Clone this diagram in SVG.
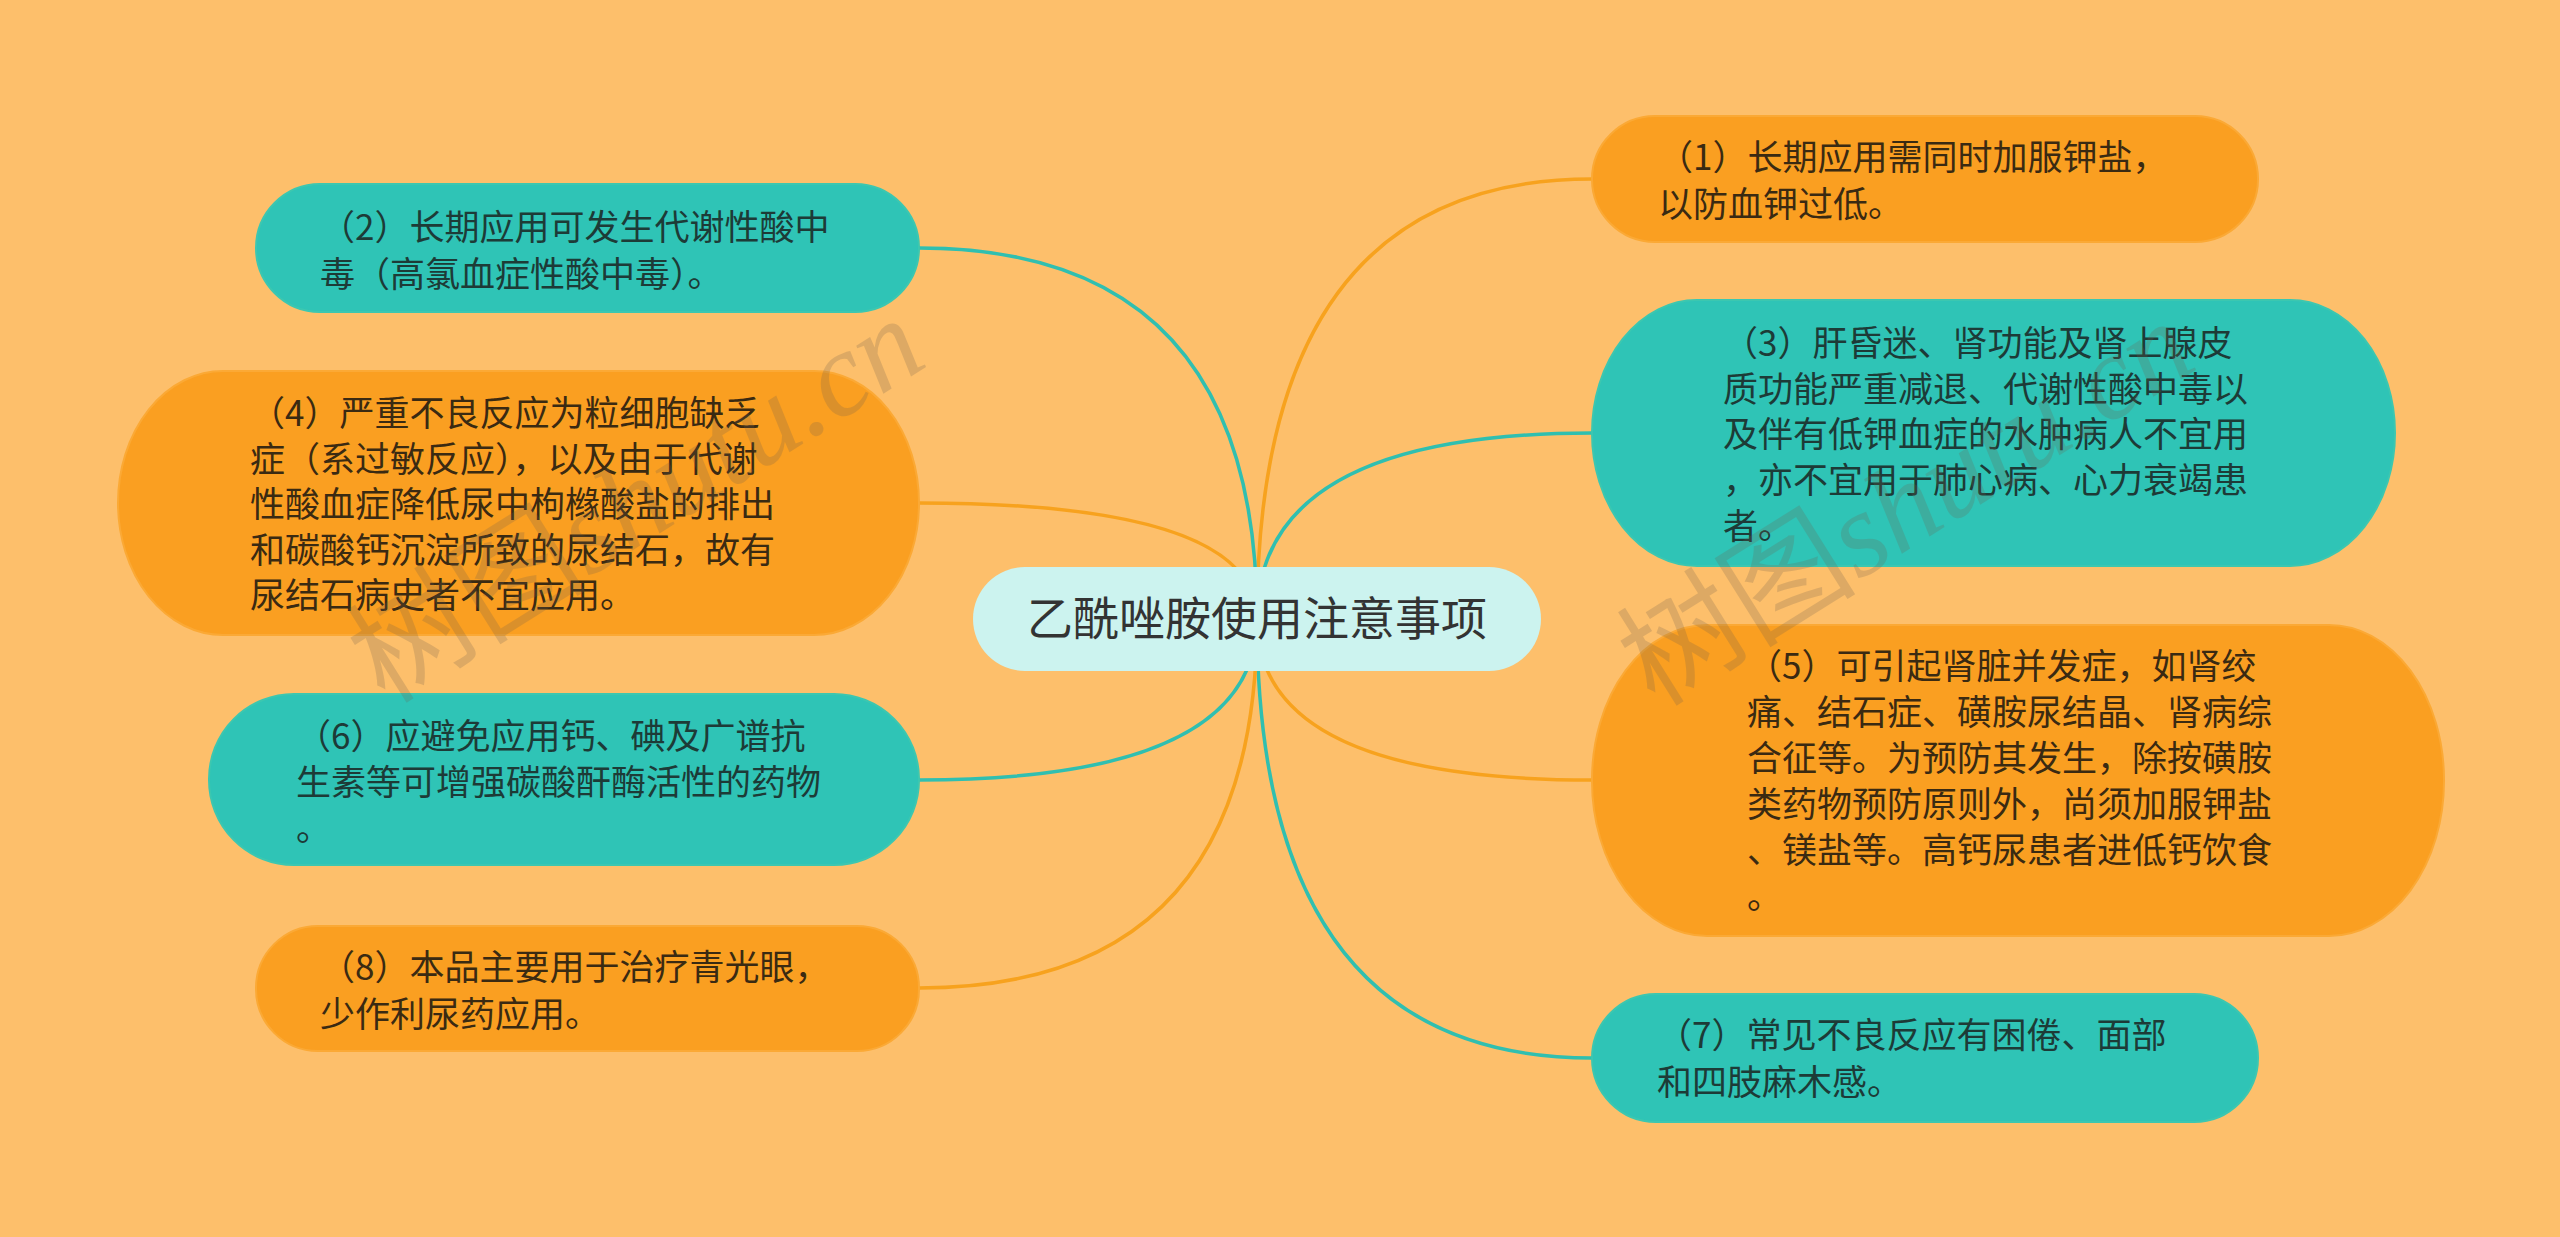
<svg xmlns="http://www.w3.org/2000/svg" width="2560" height="1237" viewBox="0 0 2560 1237">
<style>
.bg{fill:#FDBF6B}
.org{fill:#FA9F21;stroke:#FBA935;stroke-width:2}
.teal{fill:#2FC4B6;stroke:#3CC7B0;stroke-width:2}
.ctr{fill:#CCF3EF}
.t{font-family:"Noto Sans CJK SC","Noto Sans",sans-serif;font-size:35px}
.to{fill:#3A2A12}
.tt{fill:#1D3B37}
.tc{font-family:"Noto Sans CJK SC","Noto Sans",sans-serif;font-size:46px;fill:#333333}
.lo{fill:none;stroke:#F7A21E;stroke-width:3.5}
.lt{fill:none;stroke:#30BFB0;stroke-width:3.5}
.wm{font-family:"Liberation Serif","Noto Sans CJK SC",serif;font-size:120px;fill:#6E5F4E;opacity:0.22}
.it{font-style:italic}
</style>
<rect class="bg" x="0" y="0" width="2560" height="1237"/>
<g id="connectors">
<path class="lo" d="M1257,619 Q1257,179 1592,179"/>
<path class="lt" d="M1257,619 Q1257,433 1592,433"/>
<path class="lo" d="M1257,619 Q1257,780 1592,780"/>
<path class="lt" d="M1257,619 Q1257,1058 1592,1058"/>
<path class="lt" d="M1257,619 Q1257,248 919,248"/>
<path class="lo" d="M1257,619 Q1257,503 919,503"/>
<path class="lt" d="M1257,619 Q1257,780 919,780"/>
<path class="lo" d="M1257,619 Q1257,988 919,988"/>
</g>
<g id="center">
<rect class="ctr" x="973" y="567" width="568" height="104" rx="52" ry="52"/>
<text class="tc" x="1257" y="635" text-anchor="middle">乙酰唑胺使用注意事项</text>
</g>
<g id="node2">
<rect class="teal" x="256" y="184" width="663" height="128" rx="64" ry="64"/>
<text class="t tt" x="320"><tspan x="320" y="240">（2）长期应用可发生代谢性酸中</tspan><tspan x="320" y="287">毒（高氯血症性酸中毒）。</tspan></text>
</g>
<g id="node4">
<rect class="org" x="118" y="371" width="801" height="264" rx="105" ry="132"/>
<text class="t to" x="250"><tspan x="250" y="426">（4）严重不良反应为粒细胞缺乏</tspan><tspan x="250" y="472">症（系过敏反应），以及由于代谢</tspan><tspan x="250" y="517">性酸血症降低尿中枸橼酸盐的排出</tspan><tspan x="250" y="563">和碳酸钙沉淀所致的尿结石，故有</tspan><tspan x="250" y="608">尿结石病史者不宜应用。</tspan></text>
</g>
<g id="node6">
<rect class="teal" x="209" y="694" width="710" height="171" rx="85" ry="85"/>
<text class="t tt" x="296"><tspan x="296" y="749">（6）应避免应用钙、碘及广谱抗</tspan><tspan x="296" y="795">生素等可增强碳酸酐酶活性的药物</tspan><tspan x="296" y="841">。</tspan></text>
</g>
<g id="node8">
<rect class="org" x="256" y="926" width="663" height="125" rx="62" ry="62"/>
<text class="t to" x="320"><tspan x="320" y="980">（8）本品主要用于治疗青光眼，</tspan><tspan x="320" y="1027">少作利尿药应用。</tspan></text>
</g>
<g id="node1">
<rect class="org" x="1592" y="116" width="666" height="126" rx="63" ry="63"/>
<text class="t to" x="1658"><tspan x="1658" y="170">（1）长期应用需同时加服钾盐，</tspan><tspan x="1658" y="217">以防血钾过低。</tspan></text>
</g>
<g id="node3">
<rect class="teal" x="1592" y="300" width="803" height="266" rx="105" ry="133"/>
<text class="t tt" x="1723"><tspan x="1723" y="356">（3）肝昏迷、肾功能及肾上腺皮</tspan><tspan x="1723" y="402">质功能严重减退、代谢性酸中毒以</tspan><tspan x="1723" y="447">及伴有低钾血症的水肿病人不宜用</tspan><tspan x="1723" y="493">，亦不宜用于肺心病、心力衰竭患</tspan><tspan x="1723" y="539">者。</tspan></text>
</g>
<g id="node5">
<rect class="org" x="1592" y="625" width="852" height="311" rx="115" ry="155"/>
<text class="t to" x="1747"><tspan x="1747" y="679">（5）可引起肾脏并发症，如肾绞</tspan><tspan x="1747" y="725">痛、结石症、磺胺尿结晶、肾病综</tspan><tspan x="1747" y="771">合征等。为预防其发生，除按磺胺</tspan><tspan x="1747" y="817">类药物预防原则外，尚须加服钾盐</tspan><tspan x="1747" y="863">、镁盐等。高钙尿患者进低钙饮食</tspan><tspan x="1747" y="909">。</tspan></text>
</g>
<g id="node7">
<rect class="teal" x="1592" y="994" width="666" height="128" rx="64" ry="64"/>
<text class="t tt" x="1657"><tspan x="1657" y="1048">（7）常见不良反应有困倦、面部</tspan><tspan x="1657" y="1095">和四肢麻木感。</tspan></text>
</g>
<g id="watermarks">
<text class="wm" x="385" y="705" transform="rotate(-32 385 705)">树图<tspan class="it">shutu.cn</tspan></text>
<text class="wm" x="1655" y="708" transform="rotate(-32 1655 708)">树图<tspan class="it">shutu.cn</tspan></text>
</g>
</svg>
